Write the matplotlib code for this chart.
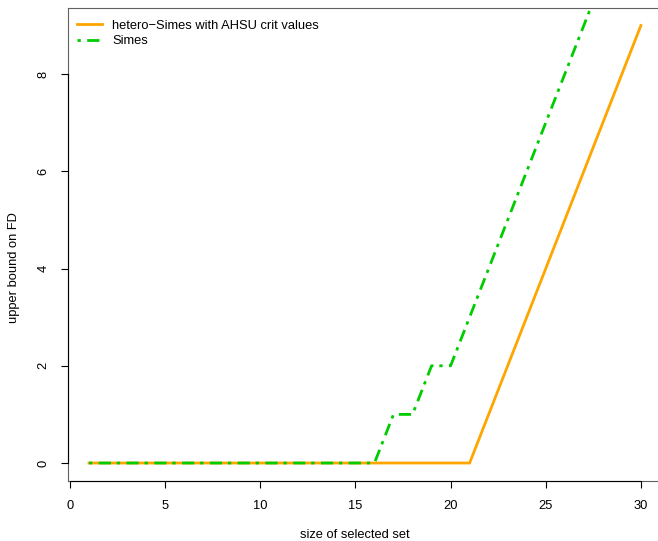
import matplotlib
matplotlib.use("Agg")
import matplotlib.pyplot as plt
import numpy as np

# Data
set_size = list(range(1, 31))
hetero_simes = [0]*21 + [1, 2, 3, 4, 5, 6, 7, 8, 9]
simes = [0]*16 + [1, 1, 2, 2, 3, 4, 5, 6, 7, 8, 9, 10, 11, 12]
x_ticks = [0, 5, 10, 15, 20, 25, 30]
y_ticks = [0, 2, 4, 6, 8]
labels = ["hetero\u2212Simes with AHSU crit values", "Simes"]

plt.rcParams['font.family'] = ['Liberation Sans', 'DejaVu Sans']
fs = 9.3

fig = plt.figure(figsize=(6.58, 5.41), dpi=100)
ax = fig.add_axes([67.5/658, 1-481/541, (659.5-67.5)/658, (481-8)/541])

lw = 2.0
ax.plot(set_size, hetero_simes, color='#FFA500', lw=lw, label=labels[0],
        solid_joinstyle='miter', zorder=2)
ax.plot(set_size, simes, color='#00CD00', lw=lw, label=labels[1],
        linestyle=(0, (1.2, 2.3, 4.4, 2.1)), dash_capstyle='butt', zorder=3)

ax.set_xlim(-0.13, (659.5-70)/19.03)
ax.set_ylim(-0.37, 9.36)
ax.set_xticks(x_ticks)
ax.set_yticks(y_ticks)
ax.tick_params(axis='both', direction='out', length=5, width=0.8, labelsize=fs,
               color='black', labelcolor='black')
ax.tick_params(axis='x', pad=9)
ax.tick_params(axis='y', pad=8)
for lab in ax.get_yticklabels():
    lab.set_rotation(90)
    lab.set_va('center')
for s in ax.spines.values():
    s.set_linewidth(0.8)
    s.set_color('#606060')
ax.spines['right'].set_visible(False)

# R-style axis lines from first to last tick (drawn over box)
ax.plot([x_ticks[0], x_ticks[-1]], [0, 0], transform=ax.get_xaxis_transform(),
        color='black', lw=0.8, clip_on=False, zorder=5)
ax.plot([0, 0], [y_ticks[0], y_ticks[-1]], transform=ax.get_yaxis_transform(),
        color='black', lw=0.8, clip_on=False, zorder=5)

fig.text(355/658, 1-535/541, "size of selected set", ha='center', va='center', fontsize=fs)
fig.text(14/658, 1-268/541, "upper bound on FD", ha='center', va='center',
         rotation=90, fontsize=fs)

leg = ax.legend(loc='upper left', bbox_to_anchor=(0.0015, 0.9935), frameon=False,
                fontsize=fs, handlelength=1.95, handletextpad=0.8,
                labelspacing=0.3, borderaxespad=0.3, borderpad=0.35)

fig.savefig("out.png", dpi=100)
